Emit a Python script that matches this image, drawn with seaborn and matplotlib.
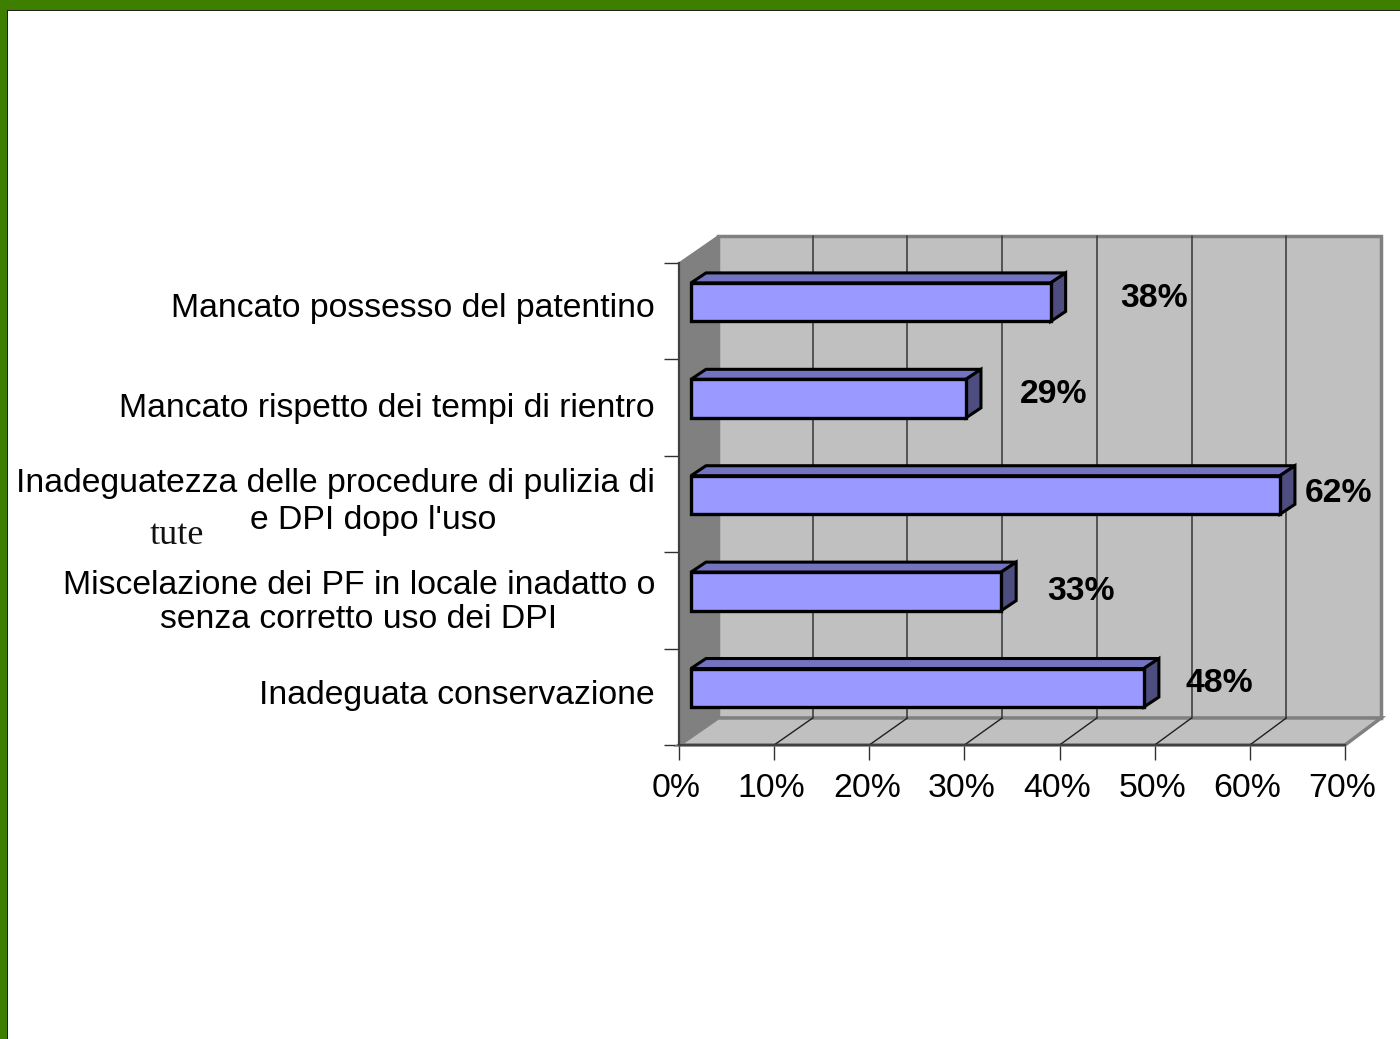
import matplotlib
matplotlib.use("Agg")
import matplotlib.pyplot as plt
from matplotlib.patches import Polygon, Rectangle
from matplotlib.transforms import Affine2D
import pandas as pd
import seaborn as sns

categories = [
    "Mancato possesso del patentino",
    "Mancato rispetto dei tempi di rientro",
    "Inadeguatezza delle procedure di pulizia di",
    "Miscelazione dei PF in locale inadatto o\nsenza corretto uso dei DPI",
    "Inadeguata conservazione",
]
category_continuation = "e DPI dopo l'uso"
stray_text = "tute"
values = [37.8, 28.9, 61.9, 32.6, 47.6]
value_labels = ["38%", "29%", "62%", "33%", "48%"]
x_ticks = [0, 10, 20, 30, 40, 50, 60, 70]
x_tick_labels = ["0%", "10%", "20%", "30%", "40%", "50%", "60%", "70%"]

W, H, DPI = 1400, 1039, 100
BAR_DX, BAR_DY = 15, 10            # bar depth, px
BAR_SHIFT_X, BAR_SHIFT_Y = 12, 9   # bar offset inside the floor, px
LABEL_OFF = [(103, 13), (88, 13), (59, 10), (80, 9), (75, 13)]
TICK_OFF = [6, 3, 24, 2.5, 5]
FONT = "Liberation Sans"
FS = 24.3

sns.set_theme(style="white")
plt.rcParams["font.family"] = [FONT, "DejaVu Sans"]

fig = plt.figure(figsize=(W / DPI, H / DPI), dpi=DPI, facecolor="white")
ax = fig.add_axes([679 / W, 1 - 745 / H, 666 / W, 482 / H])
ax.patch.set_alpha(0)

df = pd.DataFrame({"category": categories, "value": values})
sns.barplot(data=df, y="category", x="value", orient="h", width=0.4, color="#9999ff",
            saturation=1, edgecolor="black", linewidth=2.4, ax=ax, zorder=4)
ax.set_xlim(0, 70)
ax.set_ylim(4.5, -0.5)
ax.set_xlabel("")
ax.set_ylabel("")
ax.set_xticks(x_ticks, x_tick_labels)

# the back wall is the front plane moved back and very slightly narrowed
fig.canvas.draw()
ox = ax.transData.transform((0, 0))[0]
back = ax.transData + Affine2D().translate(-ox, 0).scale(663 / 666, 1).translate(ox + 39, 27)
to_data = ax.transData.inverted()
x0, x1 = ax.get_xlim()
yb, yt = ax.get_ylim()


def shifted(x, y):
    return tuple(to_data.transform(back.transform((x, y))))


# wall, side and floor
ax.add_patch(Polygon([(x0, yb), (x1, yb), (x1, yt), (x0, yt)], closed=True, transform=back,
                     facecolor="#c0c0c0", edgecolor="#808080", lw=2.5, zorder=1, clip_on=False))
ax.add_patch(Polygon([(x0, yb), (x1, yb), shifted(x1, yb), shifted(x0, yb)], closed=True,
                     facecolor="#c0c0c0", edgecolor="#808080", lw=2.5, zorder=1.2, clip_on=False))
ax.add_patch(Polygon([(x0, yb), (x0, yt), shifted(x0, yt), shifted(x0, yb)], closed=True,
                     facecolor="#808080", edgecolor="#808080", lw=1, zorder=1.2, clip_on=False))

# grid on the wall and on the floor
for t in x_ticks[1:-1]:
    ax.plot([t, t], [yb, yt], transform=back, color="#404040", lw=1.2, zorder=1.5, clip_on=False)
    ax.plot([t, shifted(t, yb)[0]], [yb, shifted(t, yb)[1]], color="#202020", lw=1, zorder=1.5, clip_on=False)

# bars: seaborn draws the front face, the depth follows from the same rectangles
px = (x1 - x0) / 666
py = (yb - yt) / 482
for bar, val in zip(ax.containers[0], values):
    bar.set_x(BAR_SHIFT_X * px)
    bar.set_y(bar.get_y() - BAR_SHIFT_Y * py)
    bx0, bx1 = bar.get_x(), bar.get_x() + bar.get_width()
    top, bot = bar.get_y(), bar.get_y() + bar.get_height()
    ddx, ddy = BAR_DX * px, BAR_DY * py
    ax.add_patch(Polygon([(bx0, top), (bx1, top), (bx1 + ddx, top - ddy), (bx0 + ddx, top - ddy)],
                         closed=True, facecolor="#7373bf", edgecolor="black", lw=2.2, zorder=3.5))
    ax.add_patch(Polygon([(bx1, top), (bx1, bot), (bx1 + ddx, bot - ddy), (bx1 + ddx, top - ddy)],
                         closed=True, facecolor="#4d4d80", edgecolor="black", lw=2.2, zorder=3.5))

# value labels
for i, (val, lab, off) in enumerate(zip(values, value_labels, LABEL_OFF)):
    ax.annotate(lab, xy=(val + BAR_SHIFT_X * px, i), xytext=(off[0] * 0.72, off[1] * 0.72),
                textcoords="offset points", ha="center", va="center", fontsize=FS,
                fontweight="bold", color="black", zorder=6, annotation_clip=False)

# axes
sns.despine(ax=ax, top=True, right=True)
for s in ("left", "bottom"):
    ax.spines[s].set_color("#404040")
    ax.spines[s].set_linewidth(1.6)
    ax.spines[s].set_zorder(2)
ax.set_yticks([-0.5, 0.5, 1.5, 2.5, 3.5, 4.5], minor=True)
ax.tick_params(axis="y", which="minor", length=15 * 0.72, width=1, color="#303030", left=True)
ax.tick_params(axis="y", which="major", length=0, pad=24 * 0.72, labelsize=FS, colors="black")
ax.tick_params(axis="x", which="major", length=15 * 0.72, width=1, color="#303030", pad=13 * 0.72,
               labelsize=FS, labelcolor="black", bottom=True)
for lab, off in zip(ax.get_yticklabels(), TICK_OFF):
    lab.set_multialignment("center")
    lab.set_linespacing(1.12)
    lab.set_transform(lab.get_transform() + Affine2D().translate(0, off))
for lab in ax.get_xticklabels():
    lab.set_transform(lab.get_transform() + Affine2D().translate(-2.5, 0))

fig.text(373 / W, 1 - 521 / H, category_continuation, fontsize=FS, ha="center", va="center", color="black")
fig.text(150 / W, 1 - 536 / H, stray_text, family="Liberation Serif", fontsize=26,
         ha="left", va="center", color="#111111")

# slide border
GREEN = "#3f7f00"
fig.add_artist(Rectangle((0, 1 - 10 / H), 1, 10 / H, transform=fig.transFigure, color=GREEN, lw=0))
fig.add_artist(Rectangle((0, 0), 7 / W, 1, transform=fig.transFigure, color=GREEN, lw=0))
fig.add_artist(Rectangle((7 / W, 1 - 11 / H), 1, 1.2 / H, transform=fig.transFigure, color="#202020", lw=0))
fig.add_artist(Rectangle((7 / W, 0), 1.2 / W, 1 - 10 / H, transform=fig.transFigure, color="#202020", lw=0))

fig.savefig("out.png", dpi=DPI, facecolor="white")
